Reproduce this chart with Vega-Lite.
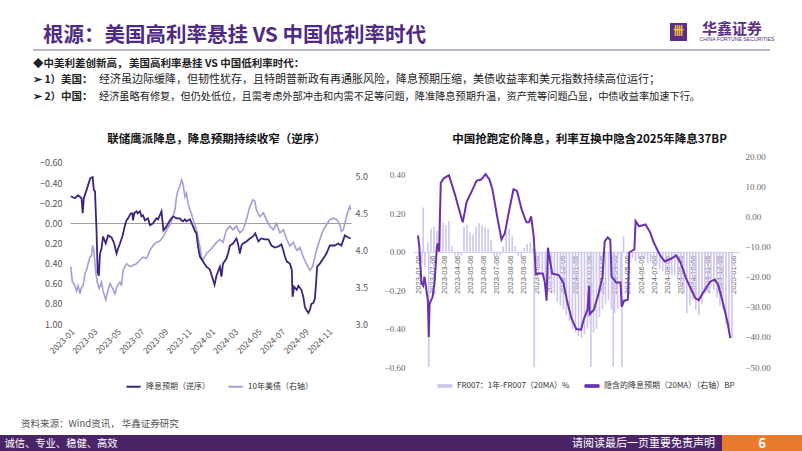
{
"$schema": "https://vega.github.io/schema/vega-lite/v6.json",
"padding": 0,
"background": "white",
"spacing": 0,
"config": {
  "view": {"stroke": null},
  "font": "Noto Sans CJK SC",
  "axis": {"grid": false, "ticks": false, "domain": false, "title": null, "labelFont": "Noto Sans CJK SC", "labelFontSize": 9, "labelColor": "#555555"},
  "legend": {"labelFont": "Noto Sans CJK SC", "labelFontSize": 8, "labelColor": "#333333", "title": null, "labelLimit": 300},
  "title": {"font": "Noto Sans CJK SC"}
},
"resolve": {"scale": {"color": "independent"}, "legend": {"color": "independent"}},
"datasets": {
  "fed": [
    {"date":"2023-01-03","v":-0.27},{"date":"2023-01-14","v":-0.25},{"date":"2023-01-22","v":-0.28},{"date":"2023-01-31","v":-0.25},{"date":"2023-02-03","v":-0.10},{"date":"2023-02-06","v":-0.25},{"date":"2023-02-13","v":-0.33},{"date":"2023-02-17","v":-0.38},{"date":"2023-02-23","v":-0.45},{"date":"2023-03-01","v":-0.46},{"date":"2023-03-04","v":-0.33},{"date":"2023-03-07","v":-0.32},{"date":"2023-03-11","v":0.07},{"date":"2023-03-14","v":0.49},{"date":"2023-03-17","v":0.52},{"date":"2023-03-20","v":0.30},{"date":"2023-03-24","v":0.25},{"date":"2023-03-28","v":0.13},{"date":"2023-04-04","v":0.20},{"date":"2023-04-10","v":0.12},{"date":"2023-04-19","v":0.14},{"date":"2023-04-26","v":0.20},{"date":"2023-05-02","v":0.30},{"date":"2023-05-06","v":0.25},{"date":"2023-05-11","v":0.20},{"date":"2023-05-18","v":0.12},{"date":"2023-05-24","v":0.02},{"date":"2023-05-28","v":-0.03},{"date":"2023-06-01","v":-0.05},{"date":"2023-06-08","v":-0.10},{"date":"2023-06-12","v":-0.10},{"date":"2023-06-14","v":-0.03},{"date":"2023-06-17","v":-0.10},{"date":"2023-06-23","v":-0.12},{"date":"2023-06-26","v":-0.10},{"date":"2023-07-02","v":-0.12},{"date":"2023-07-06","v":-0.07},{"date":"2023-07-10","v":-0.08},{"date":"2023-07-15","v":-0.03},{"date":"2023-07-23","v":-0.05},{"date":"2023-07-28","v":0.02},{"date":"2023-08-05","v":0.00},{"date":"2023-08-14","v":-0.05},{"date":"2023-08-18","v":-0.04},{"date":"2023-08-27","v":-0.12},{"date":"2023-09-01","v":0.07},{"date":"2023-09-09","v":0.03},{"date":"2023-09-18","v":-0.03},{"date":"2023-09-26","v":-0.07},{"date":"2023-10-05","v":-0.05},{"date":"2023-10-14","v":-0.05},{"date":"2023-10-18","v":-0.03},{"date":"2023-10-22","v":-0.02},{"date":"2023-10-27","v":-0.04},{"date":"2023-10-31","v":-0.02},{"date":"2023-11-09","v":-0.04},{"date":"2023-11-17","v":0.03},{"date":"2023-11-22","v":0.08},{"date":"2023-11-26","v":0.10},{"date":"2023-11-30","v":0.23},{"date":"2023-12-05","v":0.33},{"date":"2023-12-13","v":0.38},{"date":"2023-12-22","v":0.43},{"date":"2023-12-31","v":0.46},{"date":"2024-01-08","v":0.56},{"date":"2024-01-12","v":0.61},{"date":"2024-01-17","v":0.52},{"date":"2024-01-26","v":0.43},{"date":"2024-01-30","v":0.53},{"date":"2024-02-03","v":0.40},{"date":"2024-02-12","v":0.35},{"date":"2024-02-16","v":0.30},{"date":"2024-02-21","v":0.22},{"date":"2024-02-29","v":0.20},{"date":"2024-03-09","v":0.15},{"date":"2024-03-13","v":0.20},{"date":"2024-03-18","v":0.30},{"date":"2024-03-22","v":0.22},{"date":"2024-03-26","v":0.20},{"date":"2024-04-04","v":0.18},{"date":"2024-04-13","v":0.15},{"date":"2024-04-21","v":0.13},{"date":"2024-04-27","v":0.10},{"date":"2024-05-05","v":0.18},{"date":"2024-05-13","v":0.15},{"date":"2024-05-22","v":0.16},{"date":"2024-05-31","v":0.16},{"date":"2024-06-08","v":0.22},{"date":"2024-06-17","v":0.24},{"date":"2024-06-26","v":0.23},{"date":"2024-07-04","v":0.21},{"date":"2024-07-09","v":0.27},{"date":"2024-07-13","v":0.33},{"date":"2024-07-18","v":0.38},{"date":"2024-07-26","v":0.40},{"date":"2024-07-31","v":0.46},{"date":"2024-08-02","v":0.73},{"date":"2024-08-06","v":0.63},{"date":"2024-08-13","v":0.66},{"date":"2024-08-17","v":0.62},{"date":"2024-08-25","v":0.66},{"date":"2024-08-30","v":0.73},{"date":"2024-09-03","v":0.83},{"date":"2024-09-07","v":0.86},{"date":"2024-09-12","v":0.89},{"date":"2024-09-16","v":0.86},{"date":"2024-09-20","v":0.80},{"date":"2024-09-25","v":0.79},{"date":"2024-09-29","v":0.75},{"date":"2024-10-02","v":0.60},{"date":"2024-10-05","v":0.43},{"date":"2024-10-12","v":0.40},{"date":"2024-10-21","v":0.35},{"date":"2024-10-29","v":0.30},{"date":"2024-11-07","v":0.22},{"date":"2024-11-20","v":0.22},{"date":"2024-11-29","v":0.20},{"date":"2024-12-07","v":0.22},{"date":"2024-12-16","v":0.12},{"date":"2024-12-25","v":0.14},{"date":"2024-12-31","v":0.15}
  ],
  "ust": [
    {"date":"2023-01-03","v":3.78},{"date":"2023-01-07","v":3.58},{"date":"2023-01-14","v":3.52},{"date":"2023-01-18","v":3.45},{"date":"2023-01-22","v":3.52},{"date":"2023-01-27","v":3.41},{"date":"2023-01-31","v":3.50},{"date":"2023-02-04","v":3.52},{"date":"2023-02-09","v":3.69},{"date":"2023-02-13","v":3.73},{"date":"2023-02-17","v":3.82},{"date":"2023-02-22","v":3.91},{"date":"2023-02-26","v":3.93},{"date":"2023-03-01","v":4.07},{"date":"2023-03-04","v":4.00},{"date":"2023-03-09","v":3.70},{"date":"2023-03-13","v":3.57},{"date":"2023-03-18","v":3.48},{"date":"2023-03-24","v":3.57},{"date":"2023-03-28","v":3.45},{"date":"2023-04-04","v":3.33},{"date":"2023-04-08","v":3.42},{"date":"2023-04-15","v":3.55},{"date":"2023-04-22","v":3.48},{"date":"2023-04-28","v":3.41},{"date":"2023-05-04","v":3.52},{"date":"2023-05-11","v":3.57},{"date":"2023-05-15","v":3.52},{"date":"2023-05-19","v":3.73},{"date":"2023-05-28","v":3.82},{"date":"2023-06-06","v":3.78},{"date":"2023-06-14","v":3.80},{"date":"2023-06-23","v":3.82},{"date":"2023-07-02","v":3.87},{"date":"2023-07-10","v":3.91},{"date":"2023-07-19","v":3.89},{"date":"2023-07-28","v":4.00},{"date":"2023-08-05","v":4.07},{"date":"2023-08-14","v":4.11},{"date":"2023-08-23","v":4.13},{"date":"2023-09-01","v":4.19},{"date":"2023-09-09","v":4.28},{"date":"2023-09-18","v":4.35},{"date":"2023-09-26","v":4.46},{"date":"2023-10-01","v":4.55},{"date":"2023-10-05","v":4.73},{"date":"2023-10-09","v":4.82},{"date":"2023-10-14","v":4.87},{"date":"2023-10-18","v":4.96},{"date":"2023-10-22","v":4.91},{"date":"2023-10-27","v":4.73},{"date":"2023-10-31","v":4.78},{"date":"2023-11-04","v":4.64},{"date":"2023-11-09","v":4.55},{"date":"2023-11-13","v":4.50},{"date":"2023-11-17","v":4.42},{"date":"2023-11-22","v":4.35},{"date":"2023-11-26","v":4.28},{"date":"2023-12-05","v":4.05},{"date":"2023-12-09","v":3.91},{"date":"2023-12-13","v":3.87},{"date":"2023-12-22","v":3.96},{"date":"2023-12-31","v":4.00},{"date":"2024-01-08","v":4.05},{"date":"2024-01-17","v":4.11},{"date":"2024-01-26","v":4.15},{"date":"2024-02-03","v":4.11},{"date":"2024-02-12","v":4.28},{"date":"2024-02-21","v":4.33},{"date":"2024-02-29","v":4.28},{"date":"2024-03-09","v":4.33},{"date":"2024-03-18","v":4.24},{"date":"2024-03-26","v":4.28},{"date":"2024-04-04","v":4.42},{"date":"2024-04-13","v":4.60},{"date":"2024-04-21","v":4.69},{"date":"2024-04-26","v":4.67},{"date":"2024-04-30","v":4.55},{"date":"2024-05-09","v":4.46},{"date":"2024-05-18","v":4.51},{"date":"2024-05-26","v":4.42},{"date":"2024-06-04","v":4.33},{"date":"2024-06-13","v":4.28},{"date":"2024-06-21","v":4.37},{"date":"2024-06-30","v":4.24},{"date":"2024-07-09","v":4.28},{"date":"2024-07-18","v":4.15},{"date":"2024-07-26","v":4.06},{"date":"2024-08-04","v":4.11},{"date":"2024-08-13","v":4.00},{"date":"2024-08-21","v":4.04},{"date":"2024-08-30","v":3.91},{"date":"2024-09-07","v":3.82},{"date":"2024-09-16","v":3.73},{"date":"2024-09-23","v":3.78},{"date":"2024-09-29","v":3.91},{"date":"2024-10-03","v":4.00},{"date":"2024-10-12","v":4.15},{"date":"2024-10-21","v":4.28},{"date":"2024-10-29","v":4.35},{"date":"2024-11-07","v":4.42},{"date":"2024-11-16","v":4.44},{"date":"2024-11-25","v":4.42},{"date":"2024-12-03","v":4.35},{"date":"2024-12-07","v":4.26},{"date":"2024-12-12","v":4.28},{"date":"2024-12-16","v":4.37},{"date":"2024-12-20","v":4.46},{"date":"2024-12-25","v":4.55},{"date":"2024-12-29","v":4.60},{"date":"2024-12-31","v":4.55}
  ],
  "fr": [
    {"date":"2023-01-06","v":-0.04},{"date":"2023-01-13","v":-0.06},{"date":"2023-01-16","v":0.23},{"date":"2023-01-20","v":-0.08},{"date":"2023-01-27","v":0.05},{"date":"2023-01-29","v":-0.60},{"date":"2023-02-03","v":0.12},{"date":"2023-02-10","v":0.13},{"date":"2023-02-17","v":0.11},{"date":"2023-02-24","v":0.14},{"date":"2023-03-03","v":0.15},{"date":"2023-03-10","v":0.14},{"date":"2023-03-17","v":0.16},{"date":"2023-03-24","v":0.03},{"date":"2023-03-31","v":-0.02},{"date":"2023-04-07","v":-0.03},{"date":"2023-04-14","v":-0.02},{"date":"2023-04-21","v":0.13},{"date":"2023-04-28","v":0.14},{"date":"2023-05-05","v":0.10},{"date":"2023-05-12","v":0.09},{"date":"2023-05-19","v":0.13},{"date":"2023-05-26","v":0.15},{"date":"2023-06-02","v":0.14},{"date":"2023-06-09","v":0.13},{"date":"2023-06-16","v":0.12},{"date":"2023-06-23","v":0.06},{"date":"2023-06-30","v":-0.02},{"date":"2023-07-07","v":-0.03},{"date":"2023-07-14","v":-0.02},{"date":"2023-07-21","v":0.03},{"date":"2023-07-28","v":0.10},{"date":"2023-08-04","v":0.12},{"date":"2023-08-11","v":0.08},{"date":"2023-08-18","v":0.03},{"date":"2023-08-25","v":-0.02},{"date":"2023-09-01","v":-0.03},{"date":"2023-09-08","v":0.02},{"date":"2023-09-15","v":0.04},{"date":"2023-09-22","v":0.05},{"date":"2023-09-29","v":0.02},{"date":"2023-10-01","v":-0.60},{"date":"2023-10-06","v":-0.06},{"date":"2023-10-13","v":-0.09},{"date":"2023-10-20","v":-0.12},{"date":"2023-10-27","v":-0.15},{"date":"2023-11-03","v":-0.18},{"date":"2023-11-10","v":-0.20},{"date":"2023-11-17","v":-0.22},{"date":"2023-11-24","v":-0.26},{"date":"2023-12-01","v":-0.28},{"date":"2023-12-08","v":-0.30},{"date":"2023-12-15","v":-0.33},{"date":"2023-12-22","v":-0.36},{"date":"2023-12-29","v":-0.40},{"date":"2024-01-05","v":-0.42},{"date":"2024-01-12","v":-0.44},{"date":"2024-01-19","v":-0.45},{"date":"2024-01-26","v":-0.43},{"date":"2024-02-02","v":-0.40},{"date":"2024-02-09","v":-0.38},{"date":"2024-02-10","v":-0.60},{"date":"2024-02-16","v":-0.42},{"date":"2024-02-23","v":-0.40},{"date":"2024-03-01","v":-0.34},{"date":"2024-03-08","v":-0.30},{"date":"2024-03-15","v":-0.27},{"date":"2024-03-22","v":-0.25},{"date":"2024-03-29","v":-0.30},{"date":"2024-04-02","v":-0.60},{"date":"2024-04-05","v":-0.32},{"date":"2024-04-12","v":-0.30},{"date":"2024-04-19","v":-0.28},{"date":"2024-04-22","v":-0.60},{"date":"2024-04-26","v":0.08},{"date":"2024-05-03","v":-0.03},{"date":"2024-05-10","v":-0.04},{"date":"2024-05-17","v":-0.03},{"date":"2024-05-24","v":-0.05},{"date":"2024-05-31","v":-0.04},{"date":"2024-06-07","v":-0.05},{"date":"2024-06-14","v":-0.04},{"date":"2024-06-21","v":-0.06},{"date":"2024-06-28","v":-0.05},{"date":"2024-07-05","v":-0.08},{"date":"2024-07-12","v":-0.07},{"date":"2024-07-19","v":-0.09},{"date":"2024-07-26","v":-0.10},{"date":"2024-08-02","v":-0.11},{"date":"2024-08-09","v":-0.10},{"date":"2024-08-16","v":-0.12},{"date":"2024-08-23","v":-0.12},{"date":"2024-08-30","v":-0.15},{"date":"2024-09-06","v":-0.18},{"date":"2024-09-13","v":-0.22},{"date":"2024-09-20","v":-0.32},{"date":"2024-09-27","v":-0.28},{"date":"2024-10-04","v":-0.25},{"date":"2024-10-11","v":-0.30},{"date":"2024-10-18","v":-0.33},{"date":"2024-10-25","v":-0.27},{"date":"2024-11-01","v":-0.22},{"date":"2024-11-08","v":-0.20},{"date":"2024-11-15","v":-0.18},{"date":"2024-11-22","v":-0.20},{"date":"2024-11-29","v":-0.24},{"date":"2024-12-06","v":-0.28},{"date":"2024-12-13","v":-0.30},{"date":"2024-12-20","v":-0.38},{"date":"2024-12-27","v":-0.42},{"date":"2025-01-03","v":-0.45}
  ],
  "swap": [
    {"date":"2023-01-04","v":-6.3},{"date":"2023-01-07","v":-10},{"date":"2023-01-12","v":-22},{"date":"2023-01-16","v":-23},{"date":"2023-01-19","v":-20},{"date":"2023-01-23","v":-24},{"date":"2023-01-27","v":-28},{"date":"2023-01-29","v":-40},{"date":"2023-01-31","v":-29},{"date":"2023-02-07","v":-26.7},{"date":"2023-02-12","v":-21},{"date":"2023-02-17","v":-10},{"date":"2023-02-19","v":-9},{"date":"2023-02-22","v":-11.7},{"date":"2023-02-26","v":11.2},{"date":"2023-03-05","v":12.6},{"date":"2023-03-17","v":13.6},{"date":"2023-03-20","v":12.2},{"date":"2023-04-01","v":6.7},{"date":"2023-04-08","v":3},{"date":"2023-04-18","v":-2},{"date":"2023-04-27","v":4.7},{"date":"2023-05-08","v":8},{"date":"2023-05-20","v":11.8},{"date":"2023-05-31","v":12.2},{"date":"2023-06-10","v":14},{"date":"2023-06-19","v":12.2},{"date":"2023-06-26","v":9},{"date":"2023-07-07","v":0},{"date":"2023-07-17","v":-7.7},{"date":"2023-07-25","v":-5.6},{"date":"2023-08-03","v":1.3},{"date":"2023-08-14","v":9},{"date":"2023-08-22","v":8.4},{"date":"2023-09-02","v":2.3},{"date":"2023-09-13","v":-2},{"date":"2023-09-19","v":-2},{"date":"2023-09-24","v":0},{"date":"2023-09-30","v":-6.6},{"date":"2023-10-05","v":-19.3},{"date":"2023-10-13","v":-19},{"date":"2023-10-21","v":-19},{"date":"2023-10-26","v":-22},{"date":"2023-10-30","v":-28},{"date":"2023-11-02","v":-10.4},{"date":"2023-11-12","v":-19},{"date":"2023-11-27","v":-19.5},{"date":"2023-12-08","v":-22},{"date":"2023-12-16","v":-27.7},{"date":"2023-12-27","v":-34},{"date":"2024-01-07","v":-37.4},{"date":"2024-01-18","v":-37.6},{"date":"2024-01-25","v":-34},{"date":"2024-02-02","v":-31},{"date":"2024-02-06","v":-23},{"date":"2024-02-07","v":-32.5},{"date":"2024-02-17","v":-31},{"date":"2024-02-28","v":-25.5},{"date":"2024-03-08","v":-20},{"date":"2024-03-13","v":-8.3},{"date":"2024-03-20","v":-7},{"date":"2024-03-26","v":-7.8},{"date":"2024-03-29","v":-20},{"date":"2024-04-09","v":-22},{"date":"2024-04-19","v":-22},{"date":"2024-04-22","v":-30},{"date":"2024-04-27","v":-28},{"date":"2024-05-06","v":-27.7},{"date":"2024-05-09","v":-12},{"date":"2024-05-21","v":-11},{"date":"2024-05-24","v":-1.6},{"date":"2024-06-01","v":-3.3},{"date":"2024-06-16","v":-2.7},{"date":"2024-06-27","v":-5.4},{"date":"2024-07-05","v":-8.7},{"date":"2024-07-20","v":-13},{"date":"2024-07-31","v":-15},{"date":"2024-08-15","v":-14},{"date":"2024-08-26","v":-13},{"date":"2024-09-06","v":-15.5},{"date":"2024-09-18","v":-20.5},{"date":"2024-09-29","v":-23.9},{"date":"2024-10-10","v":-27.2},{"date":"2024-10-18","v":-27.8},{"date":"2024-10-29","v":-25},{"date":"2024-11-13","v":-21.7},{"date":"2024-11-24","v":-21},{"date":"2024-12-02","v":-22.8},{"date":"2024-12-13","v":-28.8},{"date":"2024-12-24","v":-35.4},{"date":"2024-12-30","v":-40.4}
  ]
},
"vconcat": [
  {"hconcat": [
    {"width": 670, "height": 49, "data": {"values": []}, "mark": "point",
     "title": {"text": "根源：美国高利率悬挂 VS 中国低利率时代", "orient": "bottom", "anchor": "start", "dx": 43, "offset": -13, "baseline": "middle", "fontSize": 20.5, "fontWeight": "bold", "color": "#4e2a84"}},
    {"vconcat": [
      {"width": 17, "height": 23, "data": {"values": []}, "mark": "point"},
      {"width": 17, "height": 18, "view": {"fill": "#5b2e86", "stroke": null}, "data": {"values": [{"t": "卌"}]}, "mark": {"type": "text", "color": "#f4c542", "fontSize": 11, "fontWeight": "bold"}, "encoding": {"text": {"field": "t"}}}
    ], "spacing": 0, "bounds": "flush"},
    {"width": 12, "height": 1, "data": {"values": []}, "mark": "point"},
    {"vconcat": [
      {"width": 60, "height": 21, "data": {"values": []}, "mark": "point"},
      {"width": 60, "height": 15, "data": {"values": [{"t": "华鑫证券"}]}, "mark": {"type": "text", "color": "#5b2e86", "fontSize": 15, "fontWeight": "bold"}, "encoding": {"text": {"field": "t"}}},
      {"width": 70, "height": 6, "data": {"values": [{"t": "CHINA FORTUNE SECURITIES"}]}, "mark": {"type": "text", "color": "#5b2e86", "fontSize": 5.2, "font": "Liberation Sans"}, "encoding": {"text": {"field": "t"}}}
    ], "spacing": 0, "bounds": "flush"}
  ], "spacing": 0},
  {"hconcat": [
    {"width": 33, "height": 2, "data": {"values": []}, "mark": "point"},
    {"width": 737, "height": 2, "view": {"fill": "#b8b4cc", "stroke": null}, "data": {"values": []}, "mark": "point"}
  ], "spacing": 0, "bounds": "flush"},
  {"hconcat": [
    {"width": 33, "height": 21, "data": {"values": []}, "mark": "point"},
    {"width": 96, "height": 21, "data": {"values": []}, "mark": "point",
     "title": {"text": "◆中美利差创新高，", "orient": "bottom", "anchor": "start", "offset": -8, "baseline": "middle", "fontSize": 10.5, "fontWeight": "bold", "color": "#222222"}},
    {"width": 600, "height": 21, "data": {"values": []}, "mark": "point",
     "title": {"text": "美国高利率悬挂 VS 中国低利率时代：", "orient": "bottom", "anchor": "start", "offset": -8, "baseline": "middle", "fontSize": 10.5, "fontWeight": "bold", "color": "#222222"}}
  ], "spacing": 0, "bounds": "flush"},
  {"hconcat": [
    {"width": 33, "height": 16, "data": {"values": []}, "mark": "point"},
    {"width": 66, "height": 16, "data": {"values": []}, "mark": "point",
     "title": {"text": "➢ 1）美国：", "orient": "bottom", "anchor": "start", "offset": -8, "baseline": "middle", "fontSize": 10.5, "fontWeight": "bold", "color": "#222222"}},
    {"width": 640, "height": 16, "data": {"values": []}, "mark": "point",
     "title": {"text": "经济虽边际缓降，但韧性犹存，且特朗普新政有再通胀风险，降息预期压缩，美债收益率和美元指数持续高位运行；", "orient": "bottom", "anchor": "start", "offset": -8, "baseline": "middle", "fontSize": 11, "fontWeight": "normal", "color": "#222222"}}
  ], "spacing": 0, "bounds": "flush"},
  {"hconcat": [
    {"width": 33, "height": 17, "data": {"values": []}, "mark": "point"},
    {"width": 66, "height": 17, "data": {"values": []}, "mark": "point",
     "title": {"text": "➢ 2）中国：", "orient": "bottom", "anchor": "start", "offset": -8, "baseline": "middle", "fontSize": 10.5, "fontWeight": "bold", "color": "#222222"}},
    {"width": 640, "height": 17, "data": {"values": []}, "mark": "point",
     "title": {"text": "经济虽略有修复，但仍处低位，且需考虑外部冲击和内需不足等问题，降准降息预期升温，资产荒等问题凸显，中债收益率加速下行。", "orient": "bottom", "anchor": "start", "offset": -8, "baseline": "middle", "fontSize": 10.2, "fontWeight": "normal", "color": "#222222"}}
  ], "spacing": 0, "bounds": "flush"},
  {"hconcat": [
    {"width": 70, "height": 45, "data": {"values": []}, "mark": "point"},
    {"width": 281, "height": 45, "data": {"values": []}, "mark": "point",
     "title": {"text": "联储鹰派降息，降息预期持续收窄（逆序）", "orient": "bottom", "anchor": "middle", "dx": 6, "offset": -10, "baseline": "middle", "fontSize": 11.5, "fontWeight": "bold", "color": "#111111"}},
    {"width": 62, "height": 45, "data": {"values": []}, "mark": "point"},
    {"width": 327, "height": 45, "data": {"values": []}, "mark": "point",
     "title": {"text": "中国抢跑定价降息，利率互换中隐含2025年降息37BP", "orient": "bottom", "anchor": "middle", "dx": 13, "offset": -10, "baseline": "middle", "fontSize": 11.5, "fontWeight": "bold", "color": "#111111"}}
  ], "spacing": 0, "bounds": "flush"},
  {"hconcat": [
    {"width": 70, "height": 1, "data": {"values": []}, "mark": "point"},
    {"width": 281, "height": 174,
     "layer": [
       {"data": {"name": "ust"}, "mark": {"type": "line", "strokeWidth": 1.6},
        "encoding": {
          "x": {"field": "date", "type": "temporal", "scale": {"type": "utc", "domain": [{"year":2023,"month":1,"date":1,"utc":true},{"year":2025,"month":1,"date":1,"utc":true}], "nice": false},
                "axis": {"values": [{"year":2023,"month":1,"date":1,"utc":true},{"year":2023,"month":3,"date":1,"utc":true},{"year":2023,"month":5,"date":1,"utc":true},{"year":2023,"month":7,"date":1,"utc":true},{"year":2023,"month":9,"date":1,"utc":true},{"year":2023,"month":11,"date":1,"utc":true},{"year":2024,"month":1,"date":1,"utc":true},{"year":2024,"month":3,"date":1,"utc":true},{"year":2024,"month":5,"date":1,"utc":true},{"year":2024,"month":7,"date":1,"utc":true},{"year":2024,"month":9,"date":1,"utc":true},{"year":2024,"month":11,"date":1,"utc":true}], "format": "%Y-%m", "labelAngle": -45, "labelPadding": 3, "labelFontSize": 8.5, "labelOverlap": false, "labelFlush": false}},
          "y": {"field": "v", "type": "quantitative", "scale": {"domain": [3.0, 5.367], "nice": false, "zero": false}, "axis": {"orient": "right", "values": [3.0, 3.5, 4.0, 4.5, 5.0], "format": ".1f", "labelPadding": 4}},
          "color": {"datum": "10年美债（右轴）", "type": "nominal",
                    "legend": {"orient": "none", "legendX": 55, "legendY": 228, "direction": "horizontal", "symbolType": "stroke", "symbolSize": 200, "symbolStrokeWidth": 2, "columnPadding": 14}}
        }},
       {"data": {"name": "fed"}, "mark": {"type": "line", "strokeWidth": 1.8},
        "encoding": {
          "x": {"field": "date", "type": "temporal", "scale": {"type": "utc", "domain": [{"year":2023,"month":1,"date":1,"utc":true},{"year":2025,"month":1,"date":1,"utc":true}], "nice": false},
                "axis": {"values": [{"year":2023,"month":1,"date":1,"utc":true},{"year":2023,"month":3,"date":1,"utc":true},{"year":2023,"month":5,"date":1,"utc":true},{"year":2023,"month":7,"date":1,"utc":true},{"year":2023,"month":9,"date":1,"utc":true},{"year":2023,"month":11,"date":1,"utc":true},{"year":2024,"month":1,"date":1,"utc":true},{"year":2024,"month":3,"date":1,"utc":true},{"year":2024,"month":5,"date":1,"utc":true},{"year":2024,"month":7,"date":1,"utc":true},{"year":2024,"month":9,"date":1,"utc":true},{"year":2024,"month":11,"date":1,"utc":true}], "format": "%Y-%m", "labelAngle": -45, "labelPadding": 3, "labelFontSize": 8.5, "labelOverlap": false, "labelFlush": false}},
          "y": {"field": "v", "type": "quantitative", "scale": {"domain": [-0.729, 1.0], "reverse": true, "nice": false, "zero": false},
                "axis": {"orient": "left", "values": [-0.6, -0.4, -0.2, 0, 0.2, 0.4, 0.6, 0.8, 1.0], "format": ".2f", "labelPadding": 8, "grid": true, "gridColor": "#9e9e9e", "gridWidth": 1, "gridOpacity": {"condition": {"test": "datum.value === 0", "value": 1}, "value": 0}}},
          "color": {"datum": "降息预期（逆序）", "type": "nominal",
                    "scale": {"domain": ["降息预期（逆序）", "10年美债（右轴）"], "range": ["#3d2380", "#a79bd8"]},
                    "legend": {"orient": "none", "legendX": 55, "legendY": 228, "direction": "horizontal", "symbolType": "stroke", "symbolSize": 200, "symbolStrokeWidth": 2, "columnPadding": 14}}
        }}
     ],
     "resolve": {"scale": {"y": "independent"}, "axis": {"y": "independent"}}
    },
    {"width": 62, "height": 1, "data": {"values": []}, "mark": "point"},
    {"width": 327, "height": 217,
     "layer": [
       {"data": {"name": "fr"}, "mark": {"type": "bar", "width": 1.6},
        "encoding": {
          "x": {"field": "date", "type": "temporal", "scale": {"type": "utc", "domain": [{"year":2023,"month":1,"date":4,"utc":true},{"year":2025,"month":1,"date":10,"utc":true}], "nice": false},
                "axis": {"orient": "bottom", "offset": -115, "values": [{"year":2023,"month":1,"date":6,"utc":true},{"year":2023,"month":2,"date":6,"utc":true},{"year":2023,"month":3,"date":6,"utc":true},{"year":2023,"month":4,"date":6,"utc":true},{"year":2023,"month":5,"date":6,"utc":true},{"year":2023,"month":6,"date":6,"utc":true},{"year":2023,"month":7,"date":6,"utc":true},{"year":2023,"month":8,"date":6,"utc":true},{"year":2023,"month":9,"date":6,"utc":true},{"year":2023,"month":10,"date":6,"utc":true},{"year":2023,"month":11,"date":6,"utc":true},{"year":2023,"month":12,"date":6,"utc":true},{"year":2024,"month":1,"date":6,"utc":true},{"year":2024,"month":2,"date":6,"utc":true},{"year":2024,"month":3,"date":6,"utc":true},{"year":2024,"month":4,"date":6,"utc":true},{"year":2024,"month":5,"date":6,"utc":true},{"year":2024,"month":6,"date":6,"utc":true},{"year":2024,"month":7,"date":6,"utc":true},{"year":2024,"month":8,"date":6,"utc":true},{"year":2024,"month":9,"date":6,"utc":true},{"year":2024,"month":10,"date":6,"utc":true},{"year":2024,"month":11,"date":6,"utc":true},{"year":2024,"month":12,"date":6,"utc":true},{"year":2025,"month":1,"date":6,"utc":true}], "format": "%Y-%m-%d", "labelAngle": -90, "labelPadding": 3, "labelFontSize": 7.5, "labelFont": "Liberation Sans", "labelColor": "#666666", "labelOverlap": false, "labelFlush": false, "domain": true, "domainColor": "#d8d0ef", "domainWidth": 1}},
          "y": {"field": "v", "type": "quantitative", "scale": {"domain": [-0.6, 0.53], "nice": false, "zero": false}, "axis": {"orient": "left", "values": [-0.6, -0.4, -0.2, 0, 0.2, 0.4], "format": ".2f", "labelPadding": 8, "labelFont": "Liberation Serif", "labelColor": "#666666"}},
          "y2": {"datum": 0},
          "color": {"datum": "FR007：1年-FR007（20MA）%", "type": "nominal",
                    "scale": {"domain": ["FR007：1年-FR007（20MA）%", "隐含的降息预期（20MA）（右轴）BP"], "range": ["#cfc5ee", "#6a30b2"]},
                    "legend": {"orient": "none", "legendX": 24, "legendY": 228, "direction": "horizontal", "symbolType": "M-1,-0.18H1V0.18H-1Z", "symbolSize": 200, "symbolStrokeWidth": 1, "columnPadding": 12}}
        }},
       {"data": {"name": "swap"}, "mark": {"type": "line", "strokeWidth": 2},
        "encoding": {
          "x": {"field": "date", "type": "temporal", "scale": {"type": "utc", "domain": [{"year":2023,"month":1,"date":4,"utc":true},{"year":2025,"month":1,"date":10,"utc":true}], "nice": false},
                "axis": {"orient": "bottom", "offset": -115, "values": [{"year":2023,"month":1,"date":6,"utc":true},{"year":2023,"month":2,"date":6,"utc":true},{"year":2023,"month":3,"date":6,"utc":true},{"year":2023,"month":4,"date":6,"utc":true},{"year":2023,"month":5,"date":6,"utc":true},{"year":2023,"month":6,"date":6,"utc":true},{"year":2023,"month":7,"date":6,"utc":true},{"year":2023,"month":8,"date":6,"utc":true},{"year":2023,"month":9,"date":6,"utc":true},{"year":2023,"month":10,"date":6,"utc":true},{"year":2023,"month":11,"date":6,"utc":true},{"year":2023,"month":12,"date":6,"utc":true},{"year":2024,"month":1,"date":6,"utc":true},{"year":2024,"month":2,"date":6,"utc":true},{"year":2024,"month":3,"date":6,"utc":true},{"year":2024,"month":4,"date":6,"utc":true},{"year":2024,"month":5,"date":6,"utc":true},{"year":2024,"month":6,"date":6,"utc":true},{"year":2024,"month":7,"date":6,"utc":true},{"year":2024,"month":8,"date":6,"utc":true},{"year":2024,"month":9,"date":6,"utc":true},{"year":2024,"month":10,"date":6,"utc":true},{"year":2024,"month":11,"date":6,"utc":true},{"year":2024,"month":12,"date":6,"utc":true},{"year":2025,"month":1,"date":6,"utc":true}], "format": "%Y-%m-%d", "labelAngle": -90, "labelPadding": 3, "labelFontSize": 7.5, "labelFont": "Liberation Sans", "labelColor": "#666666", "labelOverlap": false, "labelFlush": false, "domain": true, "domainColor": "#d8d0ef", "domainWidth": 1}},
          "y": {"field": "v", "type": "quantitative", "scale": {"domain": [-50, 22], "nice": false, "zero": false}, "axis": {"orient": "right", "values": [-50, -40, -30, -20, -10, 0, 10, 20], "format": ".2f", "labelPadding": 5, "labelFont": "Liberation Serif", "labelColor": "#666666"}},
          "color": {"datum": "隐含的降息预期（20MA）（右轴）BP", "type": "nominal",
                    "legend": {"orient": "none", "legendX": 24, "legendY": 228, "direction": "horizontal", "symbolType": "M-1,-0.18H1V0.18H-1Z", "symbolSize": 200, "symbolStrokeWidth": 1, "columnPadding": 12}}
        }}
     ],
     "resolve": {"scale": {"y": "independent"}, "axis": {"y": "independent"}}
    }
  ], "spacing": 0, "bounds": "flush", "resolve": {"scale": {"color": "independent"}, "legend": {"color": "independent"}}},
  {"width": 1, "height": 27, "data": {"values": []}, "mark": "point"},
  {"hconcat": [
    {"width": 122, "height": 18, "view": {"fill": "#4b2468", "stroke": null}, "data": {"values": [{"t": "诚信、专业、稳健、高效"}]}, "mark": {"type": "text", "color": "#ffffff", "fontSize": 10.3}, "encoding": {"text": {"field": "t"}},
     "title": {"text": "资料来源：Wind资讯， 华鑫证券研究", "orient": "top", "anchor": "start", "dx": 21, "offset": 2, "baseline": "middle", "fontSize": 9.5, "fontWeight": "normal", "color": "#555555"}},
    {"width": 443, "height": 18, "view": {"fill": "#4b2468", "stroke": null}, "data": {"values": []}, "mark": "point"},
    {"width": 157, "height": 18, "view": {"fill": "#4b2468", "stroke": null}, "data": {"values": [{"t": "请阅读最后一页重要免责声明"}]}, "mark": {"type": "text", "color": "#ffffff", "fontSize": 11}, "encoding": {"text": {"field": "t"}}},
    {"width": 80, "height": 18, "view": {"fill": "#ea7b2c", "stroke": null}, "data": {"values": [{"t": "6"}]}, "mark": {"type": "text", "color": "#ffffff", "fontSize": 13, "fontWeight": "bold"}, "encoding": {"text": {"field": "t"}}}
  ], "spacing": 0, "bounds": "flush"}
]
}
